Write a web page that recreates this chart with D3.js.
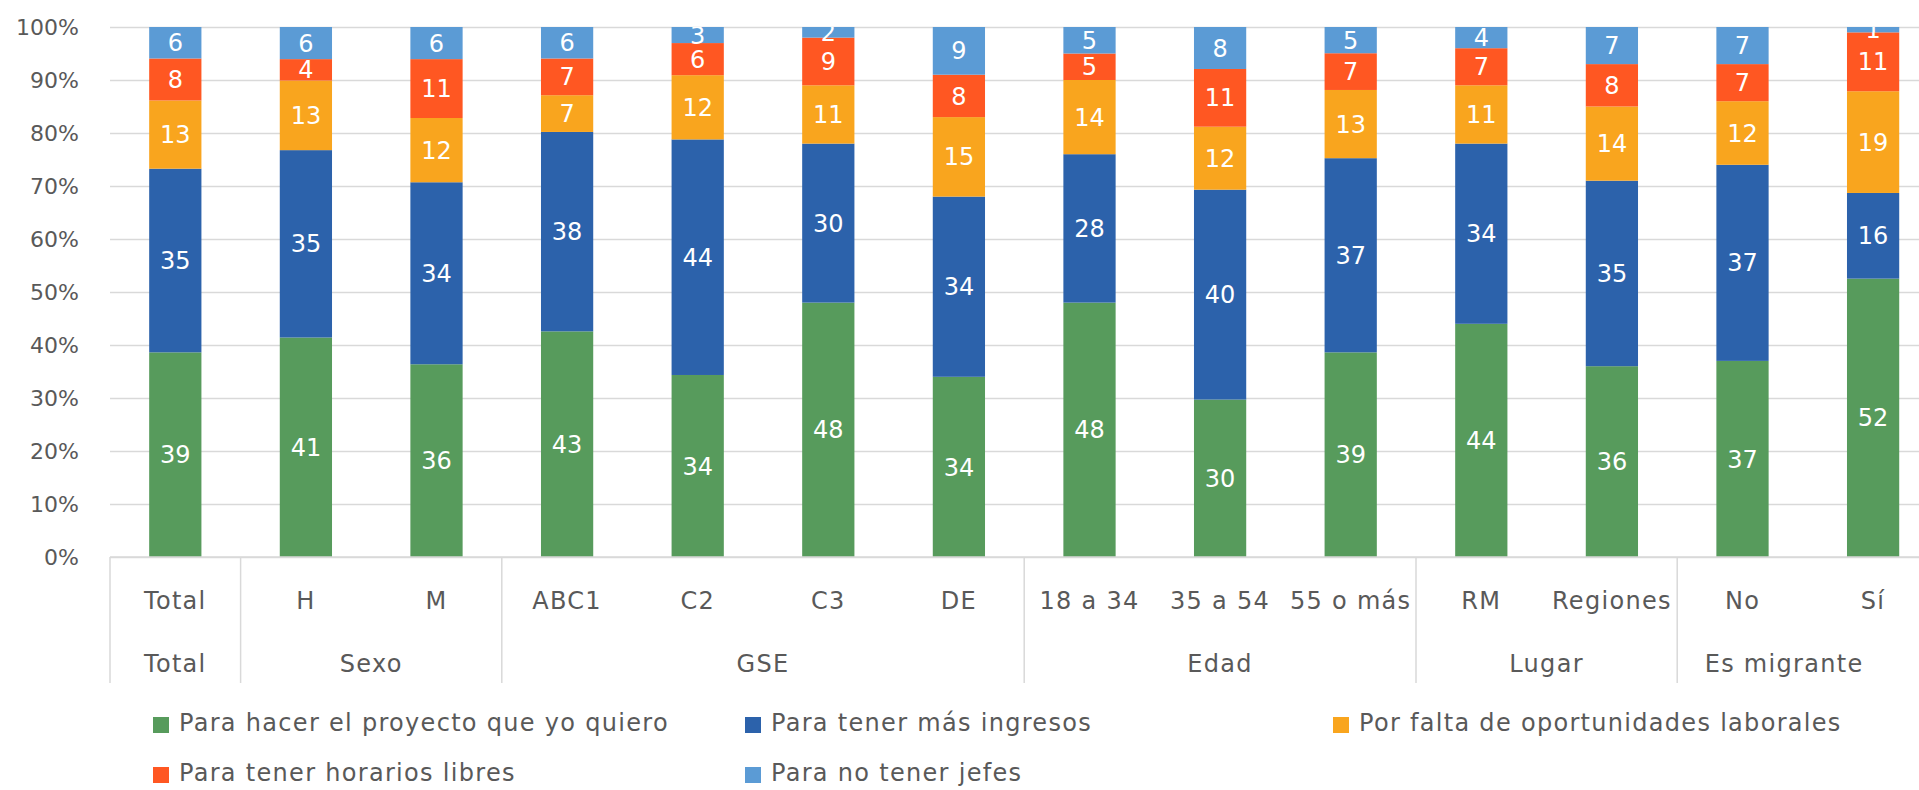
<!DOCTYPE html>
<html>
<head>
<meta charset="utf-8">
<script src="https://cdn.jsdelivr.net/npm/d3@7"></script>
<style>
  body { margin: 0; background: #fff; }
  svg { display: block; }
  text { font-family: 'DejaVu Sans', 'Noto Sans', sans-serif; }
</style>
</head>
<body>
<div id="chart"></div>
<script>
// Categories (bottom row) and their groups (second row)
const categories = ['Total', 'H', 'M', 'ABC1', 'C2', 'C3', 'DE', '18 a 34', '35 a 54', '55 o más', 'RM', 'Regiones', 'No', 'Sí'];
const groupNames = ['Total', 'Sexo', 'GSE', 'Edad', 'Lugar', 'Es migrante'];
const groupSizes = [1, 2, 4, 3, 2, 2];

// Series, bottom to top
const seriesNames = [
  'Para hacer el proyecto que yo quiero',
  'Para tener más ingresos',
  'Por falta de oportunidades laborales',
  'Para tener horarios libres',
  'Para no tener jefes',
];
const proyecto = [39, 41, 36, 43, 34, 48, 34, 48, 30, 39, 44, 36, 37, 52];
const ingresos = [35, 35, 34, 38, 44, 30, 34, 28, 40, 37, 34, 35, 37, 16];
const oportunidades = [13, 13, 12, 7, 12, 11, 15, 14, 12, 13, 11, 14, 12, 19];
const horarios = [8, 4, 11, 7, 6, 9, 8, 5, 11, 7, 7, 8, 7, 11];
const jefes = [6, 6, 6, 6, 3, 2, 9, 5, 8, 5, 4, 7, 7, 1];

const yTicks = [0, 0.1, 0.2, 0.3, 0.4, 0.5, 0.6, 0.7, 0.8, 0.9, 1];

const colours = ['#579b5c', '#2c62ab', '#f9a51e', '#ff5722', '#5b9bd5'];

// Layout
const width = 1919;
const height = 790;
const plotLeft = 110;
const plotTop = 27;
const plotBottom = 557;
const step = 130.6;
const catRow1 = 600;
const catRow2 = 663;
const sepBottom = 683;
const textColour = '#595959';
const gridColour = '#d9d9d9';
const fontSize = '24px';
const spacing = '1.3px';

const table = categories.map((c, i) => ({
  cat: c,
  s0: proyecto[i], s1: ingresos[i], s2: oportunidades[i], s3: horarios[i], s4: jefes[i],
}));
const keys = ['s0', 's1', 's2', 's3', 's4'];
const stacked = d3.stack().keys(keys).offset(d3.stackOffsetExpand)(table);

const x = d3.scaleBand()
  .domain(categories)
  .range([plotLeft, plotLeft + step * categories.length])
  .paddingInner(0.6)
  .paddingOuter(0.3);
const y = d3.scaleLinear().domain([0, 1]).range([plotBottom, plotTop]);

const svg = d3.select('#chart').append('svg')
  .attr('width', width)
  .attr('height', height);

svg.append('clipPath').attr('id', 'plotClip')
  .append('rect')
  .attr('x', 0).attr('y', plotTop)
  .attr('width', width).attr('height', plotBottom - plotTop);

// Gridlines + y labels
const yAxis = d3.axisLeft(y)
  .tickValues(yTicks)
  .tickSize(-(width - plotLeft))
  .tickPadding(31)
  .tickFormat(d3.format('.0%'));
const gy = svg.append('g')
  .attr('transform', `translate(${plotLeft},0)`)
  .call(yAxis);
gy.select('.domain').remove();
gy.selectAll('.tick line').attr('stroke', gridColour).attr('stroke-width', 1.5);
gy.selectAll('.tick text')
  .attr('fill', textColour)
  .attr('dy', '0.34em')
  .style('font-size', '22px')
  .style('font-family', "'DejaVu Sans', sans-serif");

// Bars
const layer = svg.append('g').selectAll('g')
  .data(stacked)
  .join('g')
  .attr('fill', (d, i) => colours[i]);

layer.selectAll('rect')
  .data(d => d)
  .join('rect')
  .attr('x', d => x(d.data.cat))
  .attr('width', x.bandwidth())
  .attr('y', d => y(d[1]))
  .attr('height', d => y(d[0]) - y(d[1]));

// Value labels (clipped to the plot, as in the original)
const labels = svg.append('g').attr('clip-path', 'url(#plotClip)');
stacked.forEach((s) => {
  labels.selectAll(null)
    .data(s)
    .join('text')
    .attr('x', d => x(d.data.cat) + x.bandwidth() / 2)
    .attr('y', d => y((d[0] + d[1]) / 2))
    .attr('dy', '0.36em')
    .attr('text-anchor', 'middle')
    .attr('fill', '#fff')
    .style('font-size', fontSize)
    .text(d => d.data[s.key]);
});

// Category axis baseline
svg.append('line')
  .attr('x1', plotLeft).attr('x2', width)
  .attr('y1', plotBottom).attr('y2', plotBottom)
  .attr('stroke', gridColour).attr('stroke-width', 1.5);

const edge = c => x(c) - (x.step() - x.bandwidth()) / 2;

// Group separators
let start = 0;
const groupInfo = groupNames.map((g, i) => {
  const first = categories[start];
  const last = categories[start + groupSizes[i] - 1];
  start += groupSizes[i];
  return { name: g, left: edge(first), right: Math.min(edge(last) + x.step(), width - 28) };
});
svg.append('g').selectAll('line')
  .data(groupInfo)
  .join('line')
  .attr('x1', d => d.left).attr('x2', d => d.left)
  .attr('y1', plotBottom).attr('y2', sepBottom)
  .attr('stroke', gridColour).attr('stroke-width', 1.5);

svg.append('g').selectAll('text')
  .data(categories)
  .join('text')
  .attr('x', d => x(d) + x.bandwidth() / 2)
  .attr('y', catRow1)
  .attr('dy', '0.36em')
  .attr('text-anchor', 'middle')
  .attr('fill', textColour)
  .style('font-size', fontSize)
  .style('letter-spacing', spacing)
  .text(d => d);

svg.append('g').selectAll('text')
  .data(groupInfo)
  .join('text')
  .attr('x', d => (d.left + d.right) / 2)
  .attr('y', catRow2)
  .attr('dy', '0.36em')
  .attr('text-anchor', 'middle')
  .attr('fill', textColour)
  .style('font-size', fontSize)
  .style('letter-spacing', spacing)
  .text(d => d.name);

// Legend
const legendX = [153, 745, 1333];
const legendY = [722, 772];
const legend = svg.append('g').selectAll('g')
  .data(seriesNames)
  .join('g')
  .attr('transform', (d, i) => `translate(${legendX[i % 3]},${legendY[Math.floor(i / 3)]})`);
legend.append('rect')
  .attr('x', 0).attr('y', -5)
  .attr('width', 16).attr('height', 16)
  .attr('fill', (d, i) => colours[i]);
legend.append('text')
  .attr('x', 26)
  .attr('dy', '0.36em')
  .attr('fill', textColour)
  .style('font-size', fontSize)
  .style('letter-spacing', spacing)
  .text(d => d);
</script>
</body>
</html>
